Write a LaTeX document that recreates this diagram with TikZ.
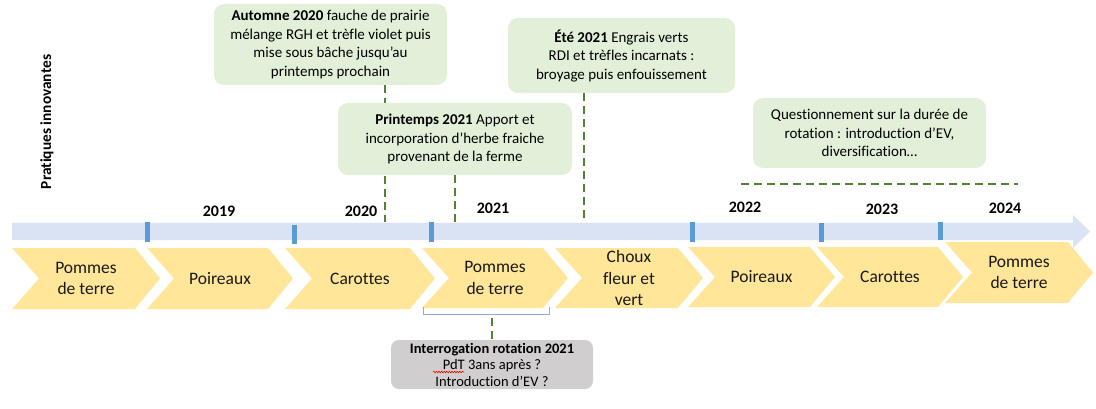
\documentclass[tikz,border=0pt]{standalone}
\usepackage{fontspec}
\setmainfont{Carlito}[Ligatures=NoCommon]
\usetikzlibrary{backgrounds,decorations.pathmorphing}
\definecolor{barblue}{HTML}{DAE3F3}
\definecolor{tickblue}{HTML}{5B9BD5}
\definecolor{chevy}{HTML}{FFE699}
\definecolor{boxgreen}{HTML}{E2F0D9}
\definecolor{dashgreen}{HTML}{548235}
\definecolor{boxgray}{HTML}{D0CECE}
\definecolor{brackblue}{HTML}{8FAADC}
\begin{document}
\begin{tikzpicture}[x=1pt,y=-1pt,
  chevfill/.style={fill=chevy},
  chevtext/.style={align=center,font=\fontsize{17.5}{21.5}\selectfont,inner sep=0pt,text=black!90},
  callout/.style={fill=boxgreen,rounded corners=10pt,align=center,font=\fontsize{15}{18.5}\selectfont,inner sep=0pt},
  graybox/.style={fill=boxgray,rounded corners=8pt,align=center,font=\fontsize{14.5}{16.5}\selectfont,inner sep=0pt},
  yearlbl/.style={font=\fontsize{16}{18}\selectfont\bfseries,inner sep=0pt},
  tickmark/.style={fill=tickblue},
  dashlink/.style={draw=dashgreen,line width=1.6pt,dash pattern=on 8pt off 5pt},
  bracketline/.style={draw=brackblue,line width=0.9pt}
]
\useasboundingbox (0,0) rectangle (1096,409);

% timeline bar with arrow head
\fill[barblue] (12,223) -- (1073,223) -- (1073,215) -- (1090,231.5) -- (1073,248) -- (1073,240) -- (12,240) -- cycle;

% ticks
\foreach \x/\t/\b in {147/222/242,294/225/244,431/222/242,692/222/242,821/223/242,940/222/240}
  \fill[tickmark] ({\x-2.5},\t) rectangle ({\x+2.5},\b);

% year labels
\node[yearlbl] (y2019) at (219,211) {2019};
\node[yearlbl] (y2020) at (361,211) {2020};
\node[yearlbl] (y2021) at (493,208) {2021};
\node[yearlbl] (y2022) at (745,207) {2022};
\node[yearlbl] (y2023) at (882,209) {2023};
\node[yearlbl] (y2024) at (1005,208) {2024};

% chevrons
\foreach \L/\R/\T/\B/\n/\txt in {
  12/135/248/309/c1/{Pommes\\de terre},
  147/268/248/309/c2/{Poireaux},
  285/410/248/309/c3/{Carottes},
  422/543/248/308/c4/{Pommes\\de terre},
  555/678/248/308/c5/{Choux\\fleur et\\vert},
  688/810/247/307/c6/{Poireaux},
  817/938/247/307/c7/{Carottes},
  945/1068/242/303/c8/{Pommes\\de terre}} {
  \fill[chevfill] (\L,\T) -- (\R,\T) -- ({\R+25},{(\T+\B)/2}) -- (\R,\B) -- (\L,\B) -- ({\L+27},{(\T+\B)/2}) -- cycle;
  \node[chevtext] (\n) at ({(\L+\R+25)/2},{(\T+\B)/2}) {\txt};
}

% rotated side label
\node[rotate=90,font=\fontsize{15.4}{17}\selectfont\bfseries,inner sep=0pt] (side) at (47,122) {Pratiques innovantes};

% callout boxes
\node[callout,minimum width=233pt,minimum height=81pt] (b1) at (330.5,44.5)
  {\textbf{Automne 2020} fauche de prairie\\mélange RGH et trèfle violet puis\\mise sous bâche jusqu’au\\printemps prochain};
\node[callout,minimum width=234pt,minimum height=72pt] (b2) at (455,139)
  {\textbf{Printemps 2021} Apport et\\incorporation d’herbe fraiche\\provenant de la ferme};
\node[callout,minimum width=227pt,minimum height=75pt] (b3) at (621.5,55.5)
  {\textbf{Été 2021} Engrais verts\\RDI et trèfles incarnats :\\broyage puis enfouissement};
\node[callout,minimum width=233pt,minimum height=70pt] (b4) at (869.5,133)
  {Questionnement sur la durée de\\rotation : introduction d’EV,\\diversification…};
\node[graybox,minimum width=202pt,minimum height=49pt] (g1) at (492,364.5)
  {\textbf{Interrogation rotation 2021}\\PdT 3ans après ?\\Introduction d’EV ?};

% spell-check underline
\draw[red,line width=0.6pt,decorate,decoration={snake,amplitude=0.8pt,segment length=2.6pt}] (433,372) -- (464,372);

% connector anchors
\coordinate (t1) at (385,222);
\coordinate (t2) at (455,224);
\coordinate (t3) at (584,221);
\coordinate (h1) at (741,184);
\coordinate (h2) at (1018,184);
\coordinate (brk) at (492,318);

\begin{pgfonlayer}{background}
  \draw[dashlink] (b1.south -| t1) -- (t1);
  \draw[dashlink] (b2.south -| t2) -- (t2);
  \draw[dashlink] (b3.south -| t3) -- (t3);
\end{pgfonlayer}
\draw[dashlink] (h1) -- (h2);

% bracket under second potato year
\draw[bracketline] (423,307) -- (423,314) -- (549,314) -- (549,307);
\draw[dashlink] (brk) -- (g1.north -| brk);
\end{tikzpicture}
\end{document}
